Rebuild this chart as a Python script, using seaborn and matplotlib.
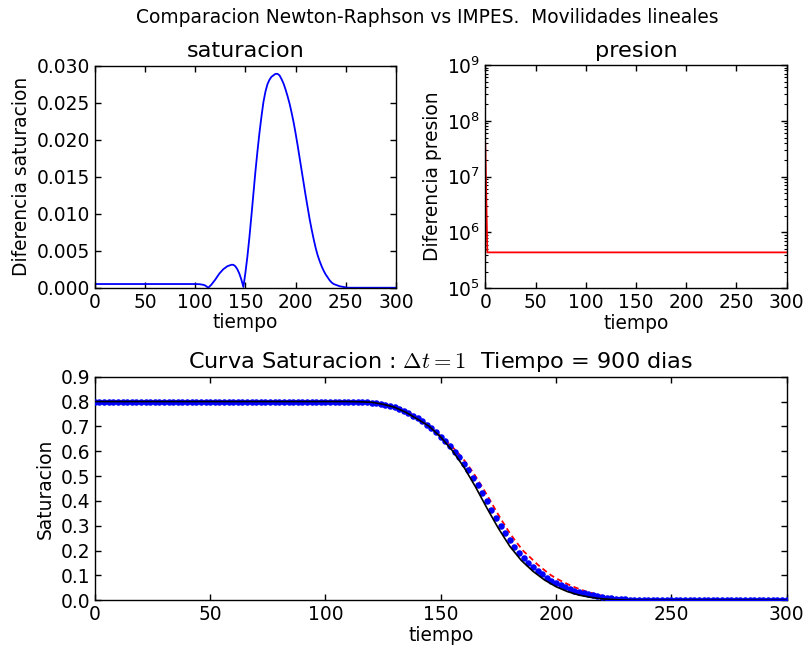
import numpy as np
import pandas as pd
import matplotlib
matplotlib.use('Agg')
import matplotlib.pyplot as plt
import seaborn as sns

# ========== datos ==========
# diferencia de saturacion (Newton-Raphson vs IMPES)
diff_t = [0, 20, 40, 60, 80, 100, 104, 108, 110, 113, 116, 120, 124, 128, 132, 136, 138,
          140, 142, 144, 146, 148, 150, 152, 154, 156, 158, 160, 162, 164, 166, 168, 170, 172,
          174, 176, 178, 180, 182, 184, 186, 188, 190, 192, 194, 196, 198, 200, 202, 204, 206,
          208, 210, 212, 214, 216, 218, 220, 222, 224, 226, 228, 230, 232, 234, 236, 238, 240,
          244, 248, 252, 270, 300]
diff_v = [0.0005, 0.0005, 0.0005, 0.0005, 0.0005, 0.0005, 0.00048, 0.0004, 0.0003,
          0.0, 0.0004, 0.0011, 0.0019, 0.0025, 0.0029, 0.0031, 0.0031, 0.0029, 0.0025, 0.0019,
          0.0011, 0.0001, 0.0020, 0.0042, 0.0068, 0.0097, 0.0127, 0.0157, 0.0184, 0.0209, 0.0231,
          0.0251, 0.0265, 0.0275, 0.0281, 0.0285, 0.0287, 0.0289, 0.0289, 0.0287, 0.0282, 0.0276,
          0.0268, 0.0259, 0.0249, 0.0237, 0.0224, 0.0209, 0.0193, 0.0176, 0.0159, 0.0142, 0.0125,
          0.0109, 0.0093, 0.0079, 0.0066, 0.0054, 0.0044, 0.0036, 0.0029, 0.0023, 0.0018, 0.0014,
          0.0010, 0.0007, 0.0005, 0.0004, 0.0002, 0.0001, 0.0, 0.0, 0.0]

# diferencia de presion
pres_t = [0, 2, 300]
pres_v = [4.0e7, 4.4e5, 4.4e5]

# curva de saturacion a 900 dias
t_num = list(range(0, 301, 2))
s_newton = ([0.800] * 55 +
            [0.800, 0.799, 0.799, 0.798, 0.797, 0.796, 0.794, 0.791, 0.787, 0.782,
             0.777, 0.770, 0.762, 0.753, 0.743, 0.732, 0.720, 0.707, 0.692, 0.676,
             0.659, 0.640, 0.620, 0.598, 0.575, 0.550, 0.523, 0.494, 0.463, 0.431,
             0.398, 0.365, 0.332, 0.300, 0.270, 0.241, 0.215, 0.191, 0.169, 0.152,
             0.135, 0.118, 0.104, 0.090, 0.078, 0.068, 0.060, 0.052, 0.045, 0.039,
             0.033, 0.028, 0.024, 0.020, 0.016, 0.013, 0.011, 0.009, 0.007, 0.005,
             0.004, 0.003, 0.002, 0.002, 0.001, 0.001] +
            [0.0] * 30)
s_impes = ([0.800] * 55 +
           [0.800, 0.799, 0.799, 0.798, 0.798, 0.797, 0.795, 0.793, 0.789, 0.785,
            0.780, 0.773, 0.765, 0.756, 0.746, 0.735, 0.722, 0.709, 0.693, 0.676,
            0.661, 0.644, 0.627, 0.608, 0.588, 0.566, 0.541, 0.515, 0.486, 0.456,
            0.425, 0.393, 0.360, 0.329, 0.299, 0.270, 0.244, 0.220, 0.197, 0.180,
            0.162, 0.144, 0.129, 0.114, 0.100, 0.089, 0.079, 0.070, 0.061, 0.053,
            0.046, 0.039, 0.033, 0.028, 0.023, 0.018, 0.015, 0.013, 0.010, 0.007,
            0.006, 0.004, 0.003, 0.003, 0.002, 0.001] +
           [0.0] * 30)
t_ana = list(range(0, 301, 5))
s_ana = ([0.800] * 22 +
         [0.800, 0.799, 0.797, 0.789, 0.777, 0.756, 0.729, 0.700, 0.657, 0.603,
          0.537, 0.458, 0.372, 0.290, 0.217, 0.160, 0.117, 0.082, 0.055, 0.035,
          0.021, 0.012, 0.006, 0.003, 0.001] +
         [0.0] * 14)

# ========== estilo ==========
sns.set_style('ticks')
plt.rcParams['font.family'] = ['DejaVu Sans']
plt.rcParams['mathtext.fontset'] = 'cm'
plt.rcParams['text.color'] = 'black'
plt.rcParams['axes.labelcolor'] = 'black'
plt.rcParams['xtick.color'] = 'black'
plt.rcParams['ytick.color'] = 'black'
plt.rcParams['xtick.labelcolor'] = 'black'
plt.rcParams['ytick.labelcolor'] = 'black'
plt.rcParams['axes.edgecolor'] = 'black'
plt.rcParams['axes.linewidth'] = 1.0
plt.rcParams['font.size'] = 13.4

fs_tick = 13.4
fs_title = 16.1

fig = plt.figure(figsize=(8.04, 6.46), dpi=100)
fig.patch.set_facecolor('white')
ax1 = fig.add_axes([0.118, 0.5546, 0.3744, 0.3437])
ax2 = fig.add_axes([0.6036, 0.5537, 0.3749, 0.3457])
ax3 = fig.add_axes([0.118, 0.0707, 0.8603, 0.3462])

fig.suptitle('Comparacion Newton-Raphson vs IMPES.  Movilidades lineales', fontsize=fs_tick,
             x=0.532, y=0.988)

# saturacion
sns.lineplot(x=diff_t, y=diff_v, color='b', linewidth=1.3, ax=ax1, estimator=None, sort=False)
ax1.set_xlim(0, 300)
ax1.set_ylim(0, 0.030)
ax1.set_xticks(np.arange(0, 301, 50))
ax1.set_yticks([0.000, 0.005, 0.010, 0.015, 0.020, 0.025, 0.030])
ax1.set_yticklabels(['0.000', '0.005', '0.010', '0.015', '0.020', '0.025', '0.030'])
ax1.set_title('saturacion', fontsize=fs_title)
ax1.set_xlabel('tiempo', fontsize=fs_tick, labelpad=1)
ax1.set_ylabel('Diferencia saturacion', fontsize=fs_tick)

# presion
sns.lineplot(x=pres_t, y=pres_v, color='r', linewidth=1.3, ax=ax2, estimator=None, sort=False)
ax2.set_yscale('log')
ax2.set_xlim(0, 300)
ax2.set_ylim(1e5, 1e9)
ax2.set_xticks(np.arange(0, 301, 50))
ax2.set_title('presion', fontsize=fs_title)
ax2.set_xlabel('tiempo', fontsize=fs_tick, labelpad=1)
ax2.set_ylabel('Diferencia presion', fontsize=fs_tick)

# curva de saturacion
sns.lineplot(x=t_num, y=s_impes, color='r', linewidth=1.3, ax=ax3, estimator=None,
             sort=False, zorder=2, dashes=False, linestyle=(0, (3, 2)))
sns.scatterplot(x=t_num, y=s_newton, color='b', s=22, linewidth=0, ax=ax3, zorder=3)
sns.lineplot(x=t_ana, y=s_ana, color='k', linewidth=1.2, ax=ax3, estimator=None,
             sort=False, zorder=4)
ax3.set_xlim(0, 300)
ax3.set_ylim(0, 0.9)
ax3.set_xticks(np.arange(0, 301, 50))
ax3.set_yticks(np.round(np.arange(0, 0.91, 0.1), 1))
ax3.set_yticklabels(['0.0', '0.1', '0.2', '0.3', '0.4', '0.5', '0.6', '0.7', '0.8', '0.9'])
ax3.set_title(r'Curva Saturacion : $\Delta t = 1$  Tiempo = 900 dias', fontsize=fs_title)
ax3.set_xlabel('tiempo', fontsize=fs_tick, labelpad=1)
ax3.set_ylabel('Saturacion', fontsize=fs_tick)

for ax in (ax1, ax2, ax3):
    ax.tick_params(which='both', direction='in', top=True, right=True,
                   labelsize=fs_tick, colors='black')
    ax.tick_params(which='major', length=4, width=1)
    ax.tick_params(which='minor', length=2, width=0.8)
    for sp in ax.spines.values():
        sp.set_visible(True)
        sp.set_color('black')

fig.savefig('out.png', dpi=100, facecolor='white')
